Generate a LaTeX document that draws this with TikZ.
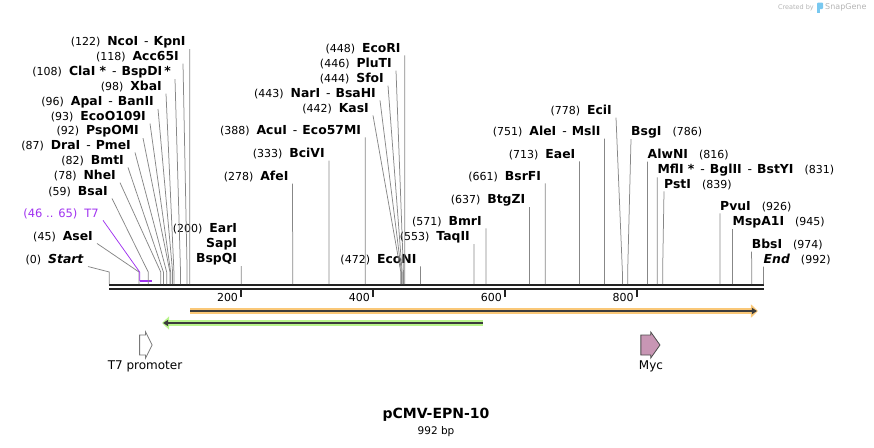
\documentclass[tikz,border=0pt]{standalone}
\usepackage{fontspec}
\setmainfont{DejaVu Sans}
\usetikzlibrary{arrows.meta, calc}

\definecolor{leadgray}{RGB}{135,135,135}
\definecolor{bbdark}{RGB}{35,35,35}
\definecolor{t7purple}{RGB}{160,50,240}
\definecolor{orfor}{RGB}{250,200,120}
\definecolor{orfgr}{RGB}{185,245,140}
\definecolor{orfdark}{RGB}{60,60,60}
\definecolor{mycpink}{RGB}{200,150,180}
\definecolor{featgray}{RGB}{120,120,120}
\definecolor{logoblue}{RGB}{120,200,240}
\definecolor{credgray}{RGB}{180,180,180}

\newcommand{\cutpos}[1]{{\mdseries\fontsize{11}{12}\selectfont(#1)}}
\newcommand{\enzsep}{{\mdseries\hspace{6pt}-\hspace{5pt}}}

\begin{document}
\begin{tikzpicture}[x=1pt, y=-1pt,
    enzl/.style={anchor=east, inner xsep=4pt, inner ysep=1pt, font=\fontsize{12.4}{15}\selectfont\bfseries},
    enzr/.style={enzl, anchor=west, inner xsep=0pt},
    lead/.style={draw=leadgray, line width=0.75pt},
    bb/.style={draw=bbdark, line width=2.8pt},
    tick/.style={draw=bbdark, line width=1.8pt},
    ticklbl/.style={anchor=east, inner sep=1pt, font=\fontsize{11}{12}\selectfont},
    orfband/.style={line width=6pt, -{Triangle[length=7pt, width=13pt]}},
    orfline/.style={draw=orfdark, line width=1.8pt, -{Triangle[length=5pt, width=6pt]}},
    feat/.style={line width=0.8pt, line join=miter},
    featlbl/.style={font=\fontsize{12}{14}\selectfont}
]

\useasboundingbox (0,0) rectangle (874,447);

% positions along the sequence (bp)
\begin{scope}[shift={(109.3,0)}, x=0.6595pt]
\coordinate (s0) at (0,284); \coordinate (s45) at (45,284); \coordinate (s46) at (46,284);
\coordinate (s59) at (59,284); \coordinate (s78) at (78,284); \coordinate (s82) at (82,284);
\coordinate (s87) at (87,284); \coordinate (s92) at (92,284); \coordinate (s93) at (93,284);
\coordinate (s96) at (96,284); \coordinate (s98) at (98,284); \coordinate (s108) at (108,284);
\coordinate (s118) at (118,284); \coordinate (s122) at (122,284); \coordinate (s200) at (200,284);
\coordinate (s278) at (278,284); \coordinate (s333) at (333,284); \coordinate (s388) at (388,284);
\coordinate (s442) at (442,284); \coordinate (s443) at (443,284); \coordinate (s444) at (444,284);
\coordinate (s446) at (446,284); \coordinate (s448) at (448,284); \coordinate (s472) at (472,284);
\coordinate (s553) at (553,284); \coordinate (s571) at (571,284); \coordinate (s637) at (637,284);
\coordinate (s661) at (661,284); \coordinate (s713) at (713,284); \coordinate (s751) at (751,284);
\coordinate (s778) at (778,284); \coordinate (s786) at (786,284); \coordinate (s816) at (816,284);
\coordinate (s831) at (831,284); \coordinate (s839) at (839,284); \coordinate (s926) at (926,284);
\coordinate (s945) at (945,284); \coordinate (s974) at (974,284); \coordinate (s992) at (992,284);
\coordinate (t7a) at (46,281); \coordinate (t7b) at (65,281);
\coordinate (b0) at (0,285); \coordinate (b992) at (992,285);
\coordinate (c0) at (0,289); \coordinate (c992) at (992,289);
\coordinate (t200) at (200,290); \coordinate (t400) at (400,290);
\coordinate (t600) at (600,290); \coordinate (t800) at (800,290);
\coordinate (o1a) at (122.4,311); \coordinate (o1b) at (983.6,311);
\coordinate (o2a) at (566.6,323); \coordinate (o2b) at (80,323);

% features
\draw[feat, draw=featgray, fill=white] (46,335) -- (55,335) -- (55,332) -- (65,345) -- (55,358) -- (55,355) -- (46,355) -- cycle;
\draw[feat, draw=black!70, fill=mycpink] (806,335) -- (821,335) -- (821,332) -- (835,345) -- (821,358) -- (821,355) -- (806,355) -- cycle;
\end{scope}

% backbone
\draw[bb] (b0) -- (b992);
\draw[bb, line width=2.2pt] (c0) -- (c992);
\draw[tick] (t200) -- ([yshift=-7pt]t200);
\draw[tick] (t400) -- ([yshift=-7pt]t400);
\draw[tick] (t600) -- ([yshift=-7pt]t600);
\draw[tick] (t800) -- ([yshift=-7pt]t800);
\node[ticklbl] (l200) at ([xshift=-2pt,yshift=-7pt]t200) {200};
\node[ticklbl] (l400) at ([xshift=-2pt,yshift=-7pt]t400) {400};
\node[ticklbl] (l600) at ([xshift=-2pt,yshift=-7pt]t600) {600};
\node[ticklbl] (l800) at ([xshift=-2pt,yshift=-7pt]t800) {800};

% open reading frames
\draw[orfband, draw=orfor, fill=orfor] (o1a) -- (o1b);
\draw[orfline] (o1a) -- ([xshift=-1pt]o1b);
\draw[orfband, draw=orfgr, fill=orfgr] (o2a) -- (o2b);
\draw[orfline] (o2a) -- ([xshift=1pt]o2b);

% enzymes, left of their cut
\node[enzl] (start) at (88,260) {\cutpos{0}\hspace{7pt}\textit{Start}};
\node[enzl] (ase) at (97,237) {\cutpos{45}\hspace{7pt}AseI};
\node[enzl, text=t7purple, font=\fontsize{11.5}{14}\selectfont] (t7) at (103,214) {(46 .. 65)\hspace{7pt}T7};
\node[enzl] (bsa) at (112,192) {\cutpos{59}\hspace{7pt}BsaI};
\node[enzl] (nhe) at (120,176) {\cutpos{78}\hspace{7pt}NheI};
\node[enzl] (bmt) at (128,161) {\cutpos{82}\hspace{7pt}BmtI};
\node[enzl] (dra) at (135,146) {\cutpos{87}\hspace{7pt}DraI\enzsep PmeI};
\node[enzl] (pspom) at (143,131) {\cutpos{92}\hspace{7pt}PspOMI};
\node[enzl] (eco109) at (150,117) {\cutpos{93}\hspace{7pt}EcoO109I};
\node[enzl] (apa) at (158,102) {\cutpos{96}\hspace{7pt}ApaI\enzsep BanII};
\node[enzl] (xba) at (166,87) {\cutpos{98}\hspace{7pt}XbaI};
\node[enzl] (cla) at (175,72) {\cutpos{108}\hspace{7pt}ClaI *\enzsep BspDI\,*};
\node[enzl] (acc) at (183,57) {\cutpos{118}\hspace{7pt}Acc65I};
\node[enzl] (nco) at (189.8,42) {\cutpos{122}\hspace{7pt}NcoI\enzsep KpnI};
\node[enzl, align=right] (ear) at (241.2,244) {\cutpos{200}\hspace{7pt}EarI\\SapI\\BspQI};
\node[enzl] (afe) at (292.6,177) {\cutpos{278}\hspace{7pt}AfeI};
\node[enzl] (bcivi) at (328.9,154) {\cutpos{333}\hspace{7pt}BciVI};
\node[enzl] (acu) at (365.2,131) {\cutpos{388}\hspace{7pt}AcuI\enzsep Eco57MI};
\node[enzl] (kas) at (373,109) {\cutpos{442}\hspace{7pt}KasI};
\node[enzl] (nar) at (380,94) {\cutpos{443}\hspace{7pt}NarI\enzsep BsaHI};
\node[enzl] (sfo) at (388,79) {\cutpos{444}\hspace{7pt}SfoI};
\node[enzl] (plut) at (396,64) {\cutpos{446}\hspace{7pt}PluTI};
\node[enzl] (ecor) at (404.8,49) {\cutpos{448}\hspace{7pt}EcoRI};
\node[enzl] (econ) at (420.6,260) {\cutpos{472}\hspace{7pt}EcoNI};
\node[enzl] (taq) at (474,237) {\cutpos{553}\hspace{7pt}TaqII};
\node[enzl] (bmr) at (485.9,222) {\cutpos{571}\hspace{7pt}BmrI};
\node[enzl] (btgz) at (529.4,200) {\cutpos{637}\hspace{7pt}BtgZI};
\node[enzl] (bsrf) at (545.2,177) {\cutpos{661}\hspace{7pt}BsrFI};
\node[enzl] (eae) at (579.5,155) {\cutpos{713}\hspace{7pt}EaeI};
\node[enzl] (ale) at (604.6,132) {\cutpos{751}\hspace{7pt}AleI\enzsep MslI};
\node[enzl] (eci) at (616,111) {\cutpos{778}\hspace{7pt}EciI};

% enzymes, right of their cut
\node[enzr] (bsg) at (631,132) {BsgI\hspace{11pt}\cutpos{786}};
\node[enzr] (alwn) at (647.5,155) {AlwNI\hspace{11pt}\cutpos{816}};
\node[enzr] (mfl) at (657.3,170) {MflI *\enzsep BglII\enzsep BstYI\hspace{11pt}\cutpos{831}};
\node[enzr] (pst) at (664,185) {PstI\hspace{11pt}\cutpos{839}};
\node[enzr] (pvu) at (720,207) {PvuI\hspace{11pt}\cutpos{926}};
\node[enzr] (mspa) at (732.5,222) {MspA1I\hspace{11pt}\cutpos{945}};
\node[enzr] (bbs) at (751.6,245) {BbsI\hspace{11pt}\cutpos{974}};
\node[enzr] (endl) at (763.5,260) {\textit{End}\hspace{11pt}\cutpos{992}};

% leaders
\draw[lead] (start.south east) -- ([yshift=12pt]s0) -- (s0);
\draw[lead] (ase.south east) -- ([yshift=12pt]s45) -- (s45);
\draw[lead, draw=t7purple] (t7.south east) -- ([yshift=12pt]s46) -- (t7a);
\draw[draw=t7purple, line width=2pt] (t7a) -- (t7b);
\draw[lead] (bsa.south east) -- ([yshift=12pt]s59) -- (s59);
\draw[lead] (nhe.south east) -- ([yshift=12pt]s78) -- (s78);
\draw[lead] (bmt.south east) -- ([yshift=12pt]s82) -- (s82);
\draw[lead] (dra.south east) -- ([yshift=12pt]s87) -- (s87);
\draw[lead] (pspom.south east) -- ([yshift=12pt]s92) -- (s92);
\draw[lead] (eco109.south east) -- ([yshift=12pt]s93) -- (s93);
\draw[lead] (apa.south east) -- ([yshift=12pt]s96) -- (s96);
\draw[lead] (xba.south east) -- ([yshift=12pt]s98) -- (s98);
\draw[lead] (cla.south east) -- ([yshift=12pt]s108) -- (s108);
\draw[lead] (acc.south east) -- ([yshift=12pt]s118) -- (s118);
\draw[lead] (nco.south east) -- (s122);
\draw[lead] (ear.south east) -- (s200);
\draw[lead] (afe.south east) -- (s278);
\draw[lead] (bcivi.south east) -- (s333);
\draw[lead] (acu.south east) -- (s388);
\draw[lead] (kas.south east) -- ([yshift=12pt]s442) -- (s442);
\draw[lead] (nar.south east) -- ([yshift=12pt]s443) -- (s443);
\draw[lead] (sfo.south east) -- ([yshift=12pt]s444) -- (s444);
\draw[lead] (plut.south east) -- ([yshift=12pt]s446) -- (s446);
\draw[lead] (ecor.south east) -- (s448);
\draw[lead] (econ.south east) -- (s472);
\draw[lead] (taq.south east) -- (s553);
\draw[lead] (bmr.south east) -- (s571);
\draw[lead] (btgz.south east) -- (s637);
\draw[lead] (bsrf.south east) -- (s661);
\draw[lead] (eae.south east) -- (s713);
\draw[lead] (ale.south east) -- (s751);
\draw[lead] (eci.south east) -- ([yshift=12pt]s778) -- (s778);
\draw[lead] (bsg.south west) -- ([yshift=12pt]s786) -- (s786);
\draw[lead] (alwn.south west) -- (s816);
\draw[lead] (mfl.south west) -- (s831);
\draw[lead] (pst.south west) -- ([yshift=12pt]s839) -- (s839);
\draw[lead] (pvu.south west) -- (s926);
\draw[lead] (mspa.south west) -- (s945);
\draw[lead] (bbs.south west) -- (s974);
\draw[lead] (endl.south west) -- (s992);

% feature names
\node[featlbl] (t7lbl) at (145,366) {T7 promoter};
\node[featlbl] (myclbl) at (651,366) {Myc};

% title
\node[font=\fontsize{14}{16}\selectfont\bfseries] (title) at (436,415) {pCMV-EPN-10};
\node[font=\fontsize{10.5}{12}\selectfont] (len) at (436,432) {992 bp};

% credit
\node[anchor=east, inner sep=0pt, text=credgray, font=\fontsize{6.5}{8}\selectfont] (cred) at (814,7.5) {Created by};
\fill[logoblue, rounded corners=1pt] (817,2.5) rectangle (823,9);
\fill[logoblue] (817,8) rectangle (819.5,13);
\node[anchor=west, inner sep=0pt, text=credgray, font=\fontsize{8}{9}\selectfont] (snap) at (825,7.5) {SnapGene};

\end{tikzpicture}
\end{document}
